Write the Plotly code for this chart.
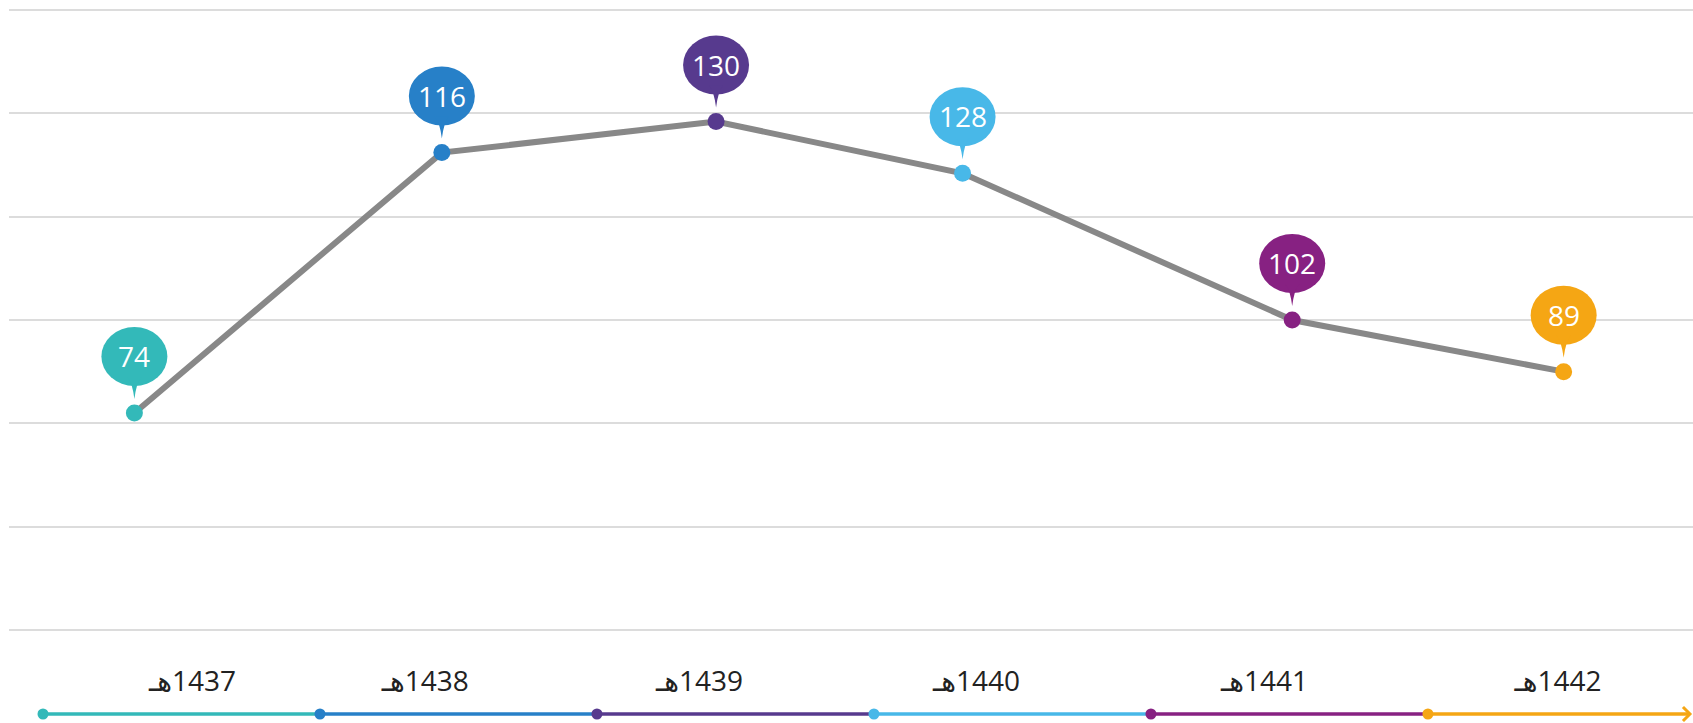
import plotly.graph_objects as go

# values shown in the bubbles and where each point sits on the chart
years = ["1437", "1438", "1439", "1440", "1441", "1442"]
counts = [74, 116, 130, 128, 102, 89]
point_y = [21.0, 46.2, 49.2, 44.2, 30.0, 25.0]
point_x = [0.33, 1.44, 2.43, 3.32, 4.51, 5.49]
label_x = [0.54, 1.38, 2.37, 3.37, 4.41, 5.47]
colors = ["#33B9B9", "#2780C8", "#573A8E", "#48B8E8", "#872182", "#F5A614"]

FONT = "Open Sans, DejaVu Sans, sans-serif"

fig = go.Figure()

# main grey line with coloured dots
fig.add_trace(
    go.Scatter(
        x=point_x,
        y=point_y,
        mode="lines+markers",
        line=dict(color="#888888", width=6),
        marker=dict(size=17, color=colors),
        hoverinfo="text",
        hovertext=[f"{y}هـ: {c}" for y, c in zip(years, counts)],
        showlegend=False,
    )
)

# bubbles above each point
for px, py, c, col in zip(point_x, point_y, counts, colors):
    fig.add_shape(
        type="circle", xref="x", yref="y",
        xsizemode="pixel", ysizemode="pixel",
        xanchor=px, yanchor=py,
        x0=-33, x1=33, y0=27, y1=86,
        fillcolor=col, line=dict(width=0),
    )
    fig.add_shape(
        type="path", xref="x", yref="y",
        xsizemode="pixel", ysizemode="pixel",
        xanchor=px, yanchor=py,
        path="M -7,36 Q -2,30 0,14 Q 2,30 7,36 Z",
        fillcolor=col, line=dict(width=0),
    )
    fig.add_annotation(
        x=px, y=py, xref="x", yref="y",
        text=str(c), showarrow=False, yshift=57,
        font=dict(family=FONT, size=28, color="white"),
    )

# timeline at the bottom, one coloured segment per year
n = len(years)
end_x = 5.946
line_y = 0.106
for i in range(n):
    x1 = i + 1 if i < n - 1 else end_x
    fig.add_trace(
        go.Scatter(
            x=[i, x1], y=[line_y, line_y], yaxis="y2",
            mode="lines", line=dict(color=colors[i], width=3.5),
            hoverinfo="skip", showlegend=False,
        )
    )
fig.add_trace(
    go.Scatter(
        x=list(range(n)), y=[line_y] * n, yaxis="y2",
        mode="markers", marker=dict(size=11, color=colors),
        hoverinfo="skip", showlegend=False,
    )
)
# chevron at the end of the timeline (about 7px each way)
dx, dy = 7 / 277, 7 / 85
fig.add_trace(
    go.Scatter(
        x=[end_x - dx, end_x, end_x - dx],
        y=[line_y + dy, line_y, line_y - dy], yaxis="y2",
        mode="lines", line=dict(color=colors[-1], width=3),
        hoverinfo="skip", showlegend=False,
    )
)

# year labels
fig.add_trace(
    go.Scatter(
        x=label_x, y=[0.46] * n, yaxis="y2",
        mode="text", text=["هـ\u200e" + y for y in years],
        textfont=dict(family=FONT, size=28, color="#222222"),
        hoverinfo="skip", showlegend=False,
    )
)

fig.update_layout(
    width=1693, height=723,
    margin=dict(l=9, r=0, t=0, b=0),
    paper_bgcolor="white", plot_bgcolor="white",
    showlegend=False,
    xaxis=dict(range=[-0.1227, 5.957], visible=False, fixedrange=True),
    yaxis=dict(
        domain=[0.11757, 1], range=[-0.774, 60.968],
        tickvals=[0, 10, 20, 30, 40, 50, 60],
        showticklabels=False, showgrid=True,
        gridcolor="#dcdcdc", gridwidth=2,
        zeroline=False, showline=False, fixedrange=True,
    ),
    yaxis2=dict(
        domain=[0, 0.11757], range=[0, 1], anchor="x",
        visible=False, fixedrange=True,
    ),
)

# put the figure flush with the window so it fills it exactly
fig.write_html(
    "out.html",
    config={"displayModeBar": False},
    post_script="document.body.style.margin='0';document.body.style.overflow='hidden';",
)
